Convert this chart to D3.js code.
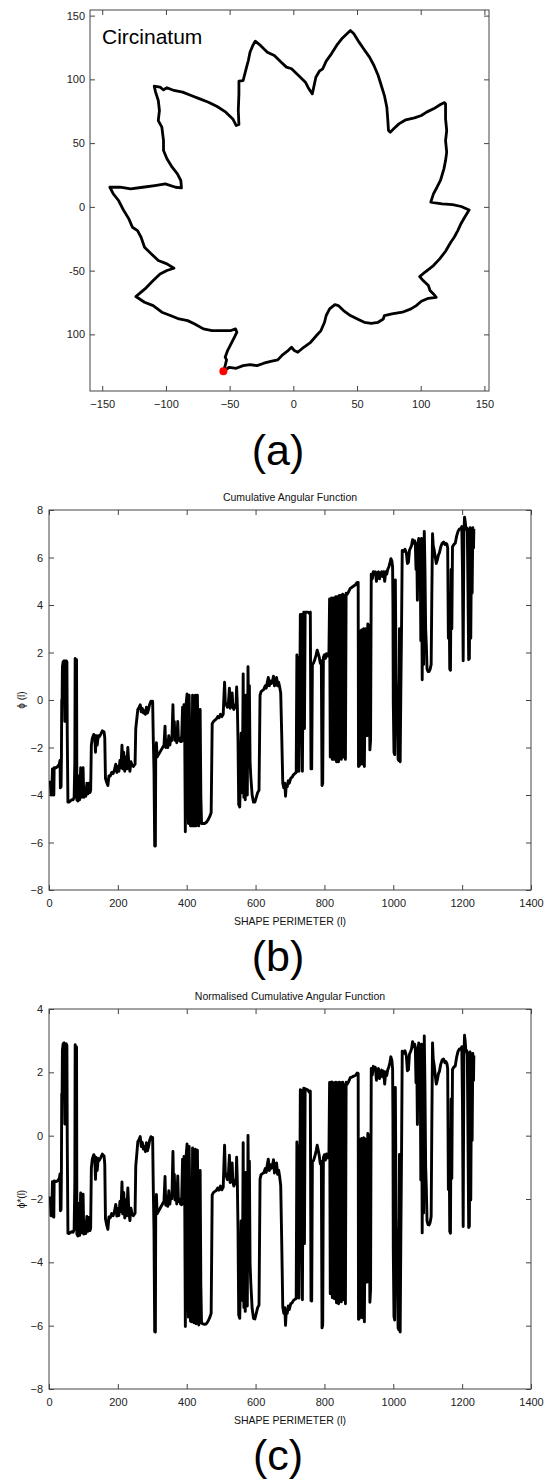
<!DOCTYPE html>
<meta charset="utf-8">
<script src="https://d3js.org/d3.v7.min.js"></script>
<style>
body { margin: 0; background: #fff; }
text { font-family: "Liberation Sans", Arial, sans-serif; }
</style>
<body>
<script>

// ---- (a) leaf contour ----
const leafName = "Circinatum";
const leafX = [-54.9,-50.3,-44.8,-39.4,-34.0,-28.5,-23.1,-17.7,-12.2,-8.2,
  -4.1,-1.4,0.8,3.5,8.2,13.6,18.2,21.7,24.5,25.8,
  28.5,32.6,35.3,39.4,44.8,50.3,55.7,61.1,66.6,70.6,
  71.5,77.4,85.6,92.4,96.5,100.5,106.0,112.2,110.0,107.3,
  106.0,101.9,99.2,103.2,110.0,114.9,119.5,123.6,126.3,129.1,
  131.8,134.5,138.0,131.8,125.0,116.8,111.4,107.9,110.0,112.8,
  115.5,118.2,119.5,120.4,119.5,120.4,119.5,119.5,118.7,115.5,
  110.0,104.6,100.5,95.1,88.3,82.9,78.8,76.1,74.7,74.2,
  73.4,71.5,69.3,66.6,63.3,59.8,55.7,51.6,47.5,44.8,
  42.1,38.0,34.0,29.9,25.8,23.1,20.4,17.7,14.9,12.2,
  9.5,4.1,-1.4,-5.4,-9.5,-14.9,-20.4,-25.8,-29.9,-31.8,
  -34.0,-35.3,-36.7,-39.4,-42.7,-42.7,-43.2,-42.7,-44.8,-47.5,
  -53.0,-59.8,-66.6,-73.4,-80.2,-86.9,-93.7,-99.2,-101.9,-104.6,
  -109.2,-108.1,-106.0,-105.1,-106.0,-103.2,-101.9,-101.9,-99.2,-95.1,
  -91.0,-88.3,-87.8,-92.4,-100.5,-108.7,-118.2,-127.7,-135.9,-144.0,
  -141.3,-137.2,-133.1,-129.1,-126.3,-122.3,-119.5,-116.8,-111.4,-106.0,
  -99.2,-93.7,-99.2,-104.6,-110.0,-115.5,-119.5,-123.6,-116.8,-110.0,
  -103.2,-96.5,-89.7,-82.9,-77.4,-70.6,-63.8,-55.7,-48.9,-45.4,
  -44.3,-46.2,-48.9,-51.6,-53.5,-52.4,-53.5,-54.9];
const leafY = [-128.9,-125.8,-126.6,-124.5,-123.7,-124.5,-122.6,-121.1,-120.0,-115.8,
  -112.7,-110.1,-112.7,-114.0,-110.1,-106.2,-100.9,-97.0,-90.5,-85.2,
  -80.0,-76.6,-77.4,-81.3,-85.2,-87.9,-90.5,-91.3,-90.5,-87.9,
  -85.2,-83.9,-82.6,-80.0,-77.4,-74.0,-71.7,-70.9,-68.3,-65.6,
  -61.7,-57.8,-54.7,-51.3,-46.0,-40.8,-34.8,-27.7,-23.8,-18.6,
  -12.8,-8.1,-2.4,0.3,1.8,2.4,3.1,3.7,10.2,15.4,
  20.7,29.8,36.3,42.9,52.0,59.9,69.0,80.8,81.8,80.3,
  76.9,74.3,71.7,69.8,68.3,65.1,61.2,58.6,59.9,67.7,
  78.2,87.3,94.4,103.0,110.9,117.4,123.2,129.2,135.7,138.3,
  135.7,131.8,126.6,120.0,114.3,108.3,106.4,101.7,88.6,92.6,
  97.8,103.0,108.3,109.6,113.5,118.7,121.3,126.6,130.0,126.6,
  121.3,114.8,109.6,99.1,98.6,88.6,75.6,64.6,63.8,69.0,
  74.3,78.7,82.1,84.7,87.3,90.0,91.3,93.4,91.8,93.9,
  94.7,90.0,83.4,75.6,67.7,62.5,52.0,44.2,37.7,31.1,
  25.9,20.7,14.9,15.4,18.0,16.7,15.4,14.1,15.4,15.4,
  10.2,5.0,-2.9,-9.4,-16.0,-18.6,-23.8,-31.6,-36.9,-42.1,
  -44.7,-48.1,-49.9,-52.6,-57.8,-63.5,-66.9,-70.3,-74.8,-77.4,
  -82.6,-85.2,-87.9,-89.2,-91.8,-95.7,-97.0,-97.0,-97.0,-95.7,
  -98.3,-102.2,-107.5,-112.7,-117.9,-120.0,-124.5,-128.9];
const startPoint = [-54.9, -128.9];
const leafXTicks = [-150, -100, -50, 0, 50, 100, 150];
const leafYTicks = [150, 100, 50, 0, -50, -100];
const leafYTickLabels = ["150", "100", "50", "0", "-50", "100"];

// ---- (b) and (c) angular functions ----
const perimeter = [4,6,8,10,12,14,15,20,25,30,
  32,33,35,36,37,38,39,41,44,46,
  47,50,52,53,55,58,62,66,70,73,
  75,76,78,79,80,81,84,87,89,92,
  94,97,99,101,104,107,110,113,116,119,
  121,123,126,130,133,135,137,140,143,146,
  150,155,160,162,164,167,171,174,178,182,
  186,190,194,197,200,203,206,209,212,214,
  217,220,223,226,229,232,235,238,241,245,
  250,252,255,258,262,265,268,271,274,277,
  280,283,286,289,292,296,299,301,303,305,
  307,309,310,312,314,318,322,326,330,334,
  337,339,342,345,348,351,354,357,360,362,
  364,366,369,371,374,376,379,382,385,388,
  390,392,394,396,398,401,403,405,407,409,
  411,413,415,417,419,421,423,425,427,429,
  431,433,435,437,439,441,443,447,452,457,
  462,467,471,474,478,482,486,490,494,498,
  502,506,508,510,512,515,518,521,524,526,
  529,532,534,537,540,543,545,547,549,551,
  554,556,558,560,562,564,566,568,570,572,
  574,576,578,580,582,584,586,590,594,598,
  602,606,610,613,616,620,624,628,631,634,
  637,640,643,646,649,652,655,658,661,664,
  667,670,673,676,679,682,685,687,689,692,
  695,698,702,706,710,714,718,720,722,724,
  726,728,730,732,734,736,738,740,742,744,
  748,752,756,759,761,763,765,768,772,776,
  779,782,785,788,791,793,795,797,800,803,
  806,810,813,815,817,819,821,823,825,827,
  829,831,833,835,837,839,841,843,845,847,
  849,851,853,855,857,859,861,863,866,870,
  875,880,885,890,895,898,899,902,904,906,
  908,910,912,914,916,918,920,922,924,926,
  929,932,934,936,939,942,945,948,951,954,
  957,960,963,966,969,972,975,978,981,984,
  987,990,993,996,998,999,1000,1002,1004,1006,
  1008,1010,1012,1014,1016,1018,1020,1022,1024,1026,
  1030,1034,1038,1041,1044,1047,1050,1053,1056,1059,
  1062,1064,1066,1068,1070,1072,1074,1076,1078,1080,
  1082,1084,1086,1088,1090,1092,1094,1096,1098,1101,
  1104,1107,1110,1112,1114,1116,1119,1122,1125,1128,
  1131,1134,1138,1142,1146,1150,1153,1156,1158,1160,
  1162,1164,1166,1168,1170,1172,1176,1180,1184,1188,
  1192,1196,1199,1201,1203,1205,1207,1209,1211,1213,
  1215,1217,1219,1221,1223,1225,1227,1229,1231,1233,
  1234];

const cumAngle = [-3.4,-4.0,-3.9,-2.9,-4.0,-4.0,-2.85,-2.85,-2.8,-2.7,
  -2.55,-3.7,-3.65,-2.5,0.0,-0.1,1.4,1.6,1.65,-0.9,
  1.6,1.65,1.6,-1.4,-4.3,-4.3,-4.25,-4.2,-4.2,-4.1,
  -2.6,1.75,1.7,-1.5,1.7,-4.2,-4.25,-3.2,-4.2,-2.85,
  -4.1,-3.9,-2.85,-4.1,-3.7,-4.05,-3.5,-3.95,-3.5,-3.9,
  -3.8,-1.9,-1.6,-1.45,-1.5,-2.2,-1.5,-1.9,-1.5,-1.55,
  -1.45,-1.3,-1.35,-1.6,-3.3,-3.45,-3.6,-3.2,-3.2,-3.05,
  -3.1,-2.95,-2.7,-3.05,-2.8,-3.0,-2.55,-2.85,-1.9,-2.9,
  -2.2,-3.0,-2.4,-2.9,-2.0,-2.75,-3.0,-2.6,-2.75,-2.8,
  -2.7,-1.2,-0.8,-0.4,-0.3,-0.2,-0.5,-0.35,-0.55,-0.45,
  -0.6,-0.3,-0.55,-0.4,-0.2,-0.05,-0.1,-0.05,-1.7,-3.0,
  -6.15,-6.15,-2.3,-1.8,-2.4,-2.3,-2.2,-2.1,-2.0,-1.9,
  -1.1,-2.0,-1.7,-2.0,-1.5,-1.9,-1.6,-1.7,-0.2,-1.4,
  -0.9,-1.7,-1.2,-1.8,-0.9,-1.7,-1.6,-1.75,-1.75,-0.3,
  -1.7,-0.2,-1.0,-5.55,-0.2,0.25,-3.9,-5.2,0.2,-1.5,
  -5.3,-3.9,-5.3,0.2,-3.9,-5.3,-1.3,0.2,-5.3,-3.8,
  0.2,-2.0,-5.3,-4.0,-0.4,-4.0,-5.2,-5.2,-5.2,-5.15,
  -5.05,-4.9,-4.75,-1.0,-0.9,-0.85,-0.8,-0.7,-0.75,-0.6,
  -0.7,-0.6,0.1,0.75,-0.1,-0.2,-0.3,-0.15,0.5,-0.35,
  -0.1,0.3,-0.3,-0.4,-0.2,-0.3,0.55,-0.2,-1.7,-4.4,
  -4.5,-3.3,-1.4,-3.9,-2.8,1.1,-4.1,-2.0,-4.2,0.2,
  -3.0,-4.0,1.4,-1.0,0.6,-2.6,-3.2,-4.0,-4.3,-4.3,
  -4.1,-3.9,-3.8,0.2,0.35,0.4,0.45,0.6,0.5,0.75,
  0.95,0.6,0.8,0.7,0.8,1.0,0.6,0.75,0.95,0.6,
  0.75,0.55,0.3,-1.5,-3.5,-3.7,-3.5,-4.05,-3.6,-3.65,
  -3.4,-3.5,-3.3,-3.25,-3.15,-3.1,-3.05,1.9,-3.0,1.8,
  -3.0,-1.0,3.6,-1.4,3.6,-3.0,1.5,3.7,-1.2,3.7,
  3.7,3.7,3.65,3.7,-2.9,-2.9,1.5,1.55,1.7,1.9,
  2.1,1.95,1.8,1.55,1.65,-3.6,-3.5,1.8,1.9,1.75,
  1.95,1.85,1.9,4.25,-2.4,2.5,4.3,-2.5,1.0,4.3,
  -2.5,-0.5,4.35,-2.6,4.35,1.5,-2.6,4.4,-2.3,4.4,
  -2.5,3.0,4.45,-2.4,4.4,-0.7,-2.5,4.5,4.45,4.55,
  4.7,4.75,4.8,4.85,4.95,4.95,-2.8,-2.75,2.9,0.0,
  2.95,-2.7,2.95,3.0,-2.8,0.2,3.0,2.9,-1.5,3.2,
  3.1,-2.1,-1.7,5.3,5.1,5.4,5.3,5.4,5.0,5.35,
  5.4,5.1,5.3,5.4,5.2,5.4,5.0,5.4,5.3,5.5,
  5.6,5.75,5.95,5.85,5.6,4.0,-0.1,-2.2,-2.3,5.05,
  1.0,-0.3,-0.9,-2.5,-2.55,3.0,-2.6,0.5,3.1,6.3,
  6.25,6.35,6.2,5.75,5.8,6.3,6.4,6.5,6.75,6.6,
  6.7,6.6,5.5,6.5,4.2,6.6,6.8,5.3,6.6,2.5,
  6.8,0.85,6.7,1.5,7.1,5.5,3.0,2.3,1.3,1.2,
  1.2,1.3,1.5,4.5,7.0,6.5,6.3,6.0,5.75,5.9,
  6.1,6.2,6.45,6.6,6.65,6.55,6.6,6.55,6.4,2.6,
  4.5,1.3,1.25,5.5,3.0,6.45,6.55,6.6,6.9,7.1,
  7.2,7.2,7.3,5.5,1.65,7.0,7.7,7.5,7.2,7.25,
  7.2,4.5,1.7,1.75,7.25,2.6,6.3,4.5,7.25,6.4,
  7.2];

const normCumAngle = [-1.92,-2.53,-2.44,-1.45,-2.56,-2.57,-1.43,-1.45,-1.43,-1.35,
  -1.21,-2.37,-2.33,-1.18,1.32,1.21,2.71,2.90,2.93,0.37,
  2.87,2.90,2.84,-0.17,-3.08,-3.09,-3.06,-3.03,-3.05,-2.97,
  -1.48,2.87,2.81,-0.40,2.80,-3.11,-3.17,-2.14,-3.15,-1.81,
  -3.07,-2.89,-1.85,-3.11,-2.72,-3.09,-2.55,-3.02,-2.58,-3.00,
  -2.91,-1.02,-0.73,-0.60,-0.67,-1.38,-0.69,-1.10,-0.72,-0.78,
  -0.70,-0.58,-0.65,-0.91,-2.62,-2.79,-2.96,-2.57,-2.59,-2.46,
  -2.53,-2.40,-2.17,-2.54,-2.30,-2.52,-2.08,-2.40,-1.46,-2.47,
  -1.79,-2.60,-2.02,-2.53,-1.65,-2.41,-2.68,-2.29,-2.46,-2.53,
  -2.45,-0.96,-0.58,-0.19,-0.11,-0.03,-0.34,-0.21,-0.42,-0.34,
  -0.50,-0.22,-0.48,-0.35,-0.16,-0.03,-0.10,-0.06,-1.72,-3.03,
  -6.19,-6.20,-2.35,-1.86,-2.47,-2.39,-2.31,-2.23,-2.15,-2.07,
  -1.29,-2.20,-1.91,-2.23,-1.74,-2.16,-1.87,-1.99,-0.50,-1.71,
  -1.22,-2.03,-1.55,-2.16,-1.27,-2.08,-2.00,-2.16,-2.18,-0.74,
  -2.15,-0.66,-1.47,-6.03,-0.69,-0.26,-4.42,-5.73,-0.34,-2.05,
  -5.86,-4.47,-5.88,-0.39,-4.50,-5.91,-1.92,-0.43,-5.94,-4.45,
  -0.46,-2.67,-5.98,-4.69,-1.10,-4.71,-5.92,-5.94,-5.96,-5.94,
  -5.86,-5.74,-5.61,-1.87,-1.79,-1.76,-1.73,-1.65,-1.72,-1.59,
  -1.71,-1.63,-0.94,-0.30,-1.16,-1.28,-1.39,-1.26,-0.62,-1.48,
  -1.25,-0.86,-1.47,-1.59,-1.40,-1.52,-0.68,-1.44,-2.95,-5.66,
  -5.77,-4.58,-2.69,-5.20,-4.11,-0.22,-5.43,-3.34,-5.55,-1.16,
  -4.37,-5.38,0.01,-2.40,-0.81,-4.02,-4.63,-5.45,-5.77,-5.79,
  -5.61,-5.43,-5.35,-1.37,-1.23,-1.20,-1.17,-1.04,-1.16,-0.92,
  -0.74,-1.10,-0.92,-1.03,-0.95,-0.76,-1.18,-1.04,-0.86,-1.22,
  -1.09,-1.30,-1.57,-3.38,-5.40,-5.61,-5.43,-5.99,-5.55,-5.61,
  -5.38,-5.49,-5.31,-5.28,-5.20,-5.17,-5.14,-0.20,-5.11,-0.32,
  -5.13,-3.14,1.45,-3.56,1.43,-5.18,-0.69,1.50,-3.41,1.48,
  1.46,1.44,1.37,1.41,-5.21,-5.22,-0.83,-0.79,-0.66,-0.48,
  -0.30,-0.46,-0.63,-0.89,-0.81,-6.07,-5.98,-0.69,-0.60,-0.77,
  -0.58,-0.70,-0.67,1.68,-4.99,-0.10,1.70,-5.12,-1.63,1.67,
  -5.15,-3.16,1.69,-5.28,1.67,-1.20,-5.31,1.69,-5.03,1.67,
  -5.25,0.25,1.69,-5.18,1.62,-3.50,-5.31,1.69,1.62,1.70,
  1.83,1.85,1.88,1.90,1.98,1.96,-5.80,-5.76,-0.12,-3.03,
  -0.09,-5.75,-0.11,-0.07,-5.88,-2.89,-0.10,-0.21,-4.62,0.07,
  -0.05,-5.26,-4.87,2.12,1.91,2.19,2.08,2.16,1.75,2.08,
  2.12,1.80,1.99,2.07,1.86,2.04,1.63,2.01,1.90,2.08,
  2.17,2.30,2.49,2.37,2.11,0.51,-3.60,-5.71,-5.82,1.52,
  -2.54,-3.85,-4.46,-6.07,-6.13,-0.59,-6.20,-3.11,-0.52,2.67,
  2.60,2.68,2.51,2.05,2.08,2.57,2.65,2.74,2.97,2.81,
  2.89,2.78,1.67,2.66,0.35,2.74,2.93,1.42,2.71,-1.40,
  2.89,-3.07,2.77,-2.44,3.15,1.54,-0.97,-1.68,-2.69,-2.81,
  -2.82,-2.74,-2.55,0.44,2.93,2.42,2.21,1.89,1.63,1.76,
  1.95,2.03,2.26,2.39,2.42,2.30,2.34,2.27,2.11,-1.70,
  0.19,-3.02,-3.08,1.16,-1.35,2.09,2.17,2.20,2.48,2.66,
  2.74,2.72,2.81,1.00,-2.87,2.48,3.17,2.96,2.65,2.69,
  2.63,-0.09,-2.90,-2.86,2.64,-2.03,1.67,-0.15,2.60,1.74,
  2.53];

const perimeterTicks = [0, 200, 400, 600, 800, 1000, 1200, 1400];
const cafTicks = [-8, -6, -4, -2, 0, 2, 4, 6, 8];
const ncafTicks = [-8, -6, -4, -2, 0, 2, 4];

const font = '"Liberation Sans", Arial, sans-serif';
const frameColor = "#444";

const svg = d3.select("body").append("svg")
    .attr("width", 545)
    .attr("height", 1483);

// frame with inward ticks on all four sides
function drawFrame(g, x, y, xTicks, yTicks, xFmt, yFmt, xPad, yPad) {
  const w = x.range()[1], h = y.range()[0];
  g.append("g").attr("transform", `translate(0,${h})`)
    .call(d3.axisBottom(x).tickValues(xTicks).tickSizeInner(-5).tickSizeOuter(0).tickPadding(xPad).tickFormat(xFmt));
  g.append("g")
    .call(d3.axisTop(x).tickValues(xTicks).tickSizeInner(-5).tickSizeOuter(0).tickFormat(""));
  g.append("g")
    .call(d3.axisLeft(y).tickValues(yTicks).tickSizeInner(-5).tickSizeOuter(0).tickPadding(yPad).tickFormat(yFmt));
  g.append("g").attr("transform", `translate(${w},0)`)
    .call(d3.axisRight(y).tickValues(yTicks).tickSizeInner(-5).tickSizeOuter(0).tickFormat(""));
  g.selectAll(".domain").remove();
  g.selectAll(".tick line").attr("stroke", frameColor);
  g.selectAll(".tick text")
    .attr("font-family", font)
    .attr("font-size", 11)
    .attr("fill", "#222");
  g.append("rect")
    .attr("width", w).attr("height", h)
    .attr("fill", "none").attr("stroke", frameColor).attr("stroke-width", 1);
}

// ---------- panel (a) ----------
const gA = svg.append("g").attr("transform", "translate(90,10)");
const xA = d3.scaleLinear().domain([-159.6, 153.6]).range([0, 399]);
const yA = d3.scaleLinear().domain([-144.4, 154.4]).range([381, 0]);

drawFrame(gA, xA, yA, leafXTicks, leafYTicks, d3.format("d"),
  (d, i) => leafYTickLabels[i], 9, 5);

gA.append("path")
  .datum(leafX.map((d, i) => [d, leafY[i]]))
  .attr("fill", "none")
  .attr("stroke", "#000")
  .attr("stroke-width", 2.8)
  .attr("stroke-linejoin", "round")
  .attr("d", d3.line().x(d => xA(d[0])).y(d => yA(d[1])));

gA.append("circle")
  .attr("cx", xA(startPoint[0]))
  .attr("cy", yA(startPoint[1]))
  .attr("r", 4)
  .attr("fill", "#ff0000");

gA.append("text")
  .attr("x", 12).attr("y", 34)
  .attr("font-size", 21)
  .attr("fill", "#000")
  .text(leafName);

svg.append("text")
  .attr("x", 278).attr("y", 465)
  .attr("text-anchor", "middle")
  .attr("font-size", 43)
  .text("(a)");

// ---------- panels (b) and (c) ----------
function anglePanel(top, series, yDomain, yTicks, title, yLabel, tag) {
  const g = svg.append("g").attr("transform", `translate(49,${top})`);
  const x = d3.scaleLinear().domain([0, 1400]).range([0, 482]);
  const y = d3.scaleLinear().domain(yDomain).range([380, 0]);

  drawFrame(g, x, y, perimeterTicks, yTicks, d3.format("d"), d3.format("d"), 9, 6);

  g.append("path")
    .datum(perimeter.map((d, i) => [d, series[i]]))
    .attr("fill", "none")
    .attr("stroke", "#000")
    .attr("stroke-width", 2.9)
    .attr("stroke-linejoin", "round")
    .attr("d", d3.line().defined(d => d[1] != null).x(d => x(d[0])).y(d => y(d[1])));

  g.append("text")
    .attr("x", 241).attr("y", -9)
    .attr("text-anchor", "middle")
    .attr("font-size", 10.5)
    .attr("fill", "#111")
    .text(title);

  g.append("text")
    .attr("x", 241).attr("y", 415)
    .attr("text-anchor", "middle")
    .attr("font-size", 10.5)
    .attr("fill", "#111")
    .text("SHAPE PERIMETER (l)");

  g.append("text")
    .attr("transform", `translate(-24,190) rotate(-90)`)
    .attr("text-anchor", "middle")
    .attr("font-size", 10)
    .attr("fill", "#111")
    .text(yLabel);

  svg.append("text")
    .attr("x", 278).attr("y", top + 461)
    .attr("text-anchor", "middle")
    .attr("font-size", 43)
    .text(tag);
}

anglePanel(510, cumAngle, [-8, 8], cafTicks, "Cumulative Angular Function", "\u03d5 (l)", "(b)");
anglePanel(1009, normCumAngle, [-8, 4], ncafTicks, "Normalised Cumulative Angular Function", "\u03d5*(l)", "(c)");

</script>
</body>
